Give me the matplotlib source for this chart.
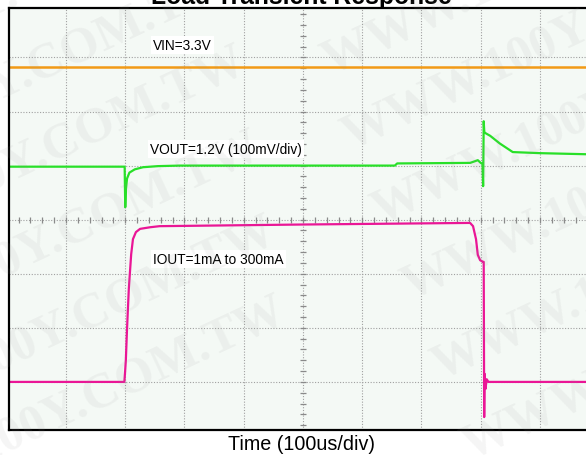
import numpy as np
from matplotlib import pyplot as plt
from matplotlib import font_manager

# screen positions are in divisions (8 vertical), time in us (100us/div)
vin_t = [0, 1000]
vin_y = [6.82, 6.82]

vout_t = [0, 199, 200, 201, 203, 207, 216, 230, 255, 292, 655, 659, 782, 790, 795,
          800, 803, 804, 805, 806, 808, 816, 832, 854, 900, 978, 1000]
vout_y = [4.98, 4.98, 4.23, 4.55, 4.76, 4.87, 4.93, 4.97, 4.99, 5.00, 5.00, 5.04, 5.05,
          5.08, 5.10, 5.05, 5.03, 4.62, 5.82, 5.62, 5.60, 5.55, 5.41, 5.25, 5.23, 5.21, 5.21]

iout_t = [0, 198.5, 199.5, 201, 203, 206, 210, 213, 218, 225, 242, 258, 495, 782,
          787, 792, 795, 799, 804, 805, 805.8, 806.5, 808, 810, 813, 1000]
iout_y = [1.00, 1.00, 1.15, 1.40, 1.98, 2.72, 3.36, 3.64, 3.77, 3.83, 3.86, 3.88, 3.91,
          3.94, 3.88, 3.64, 3.35, 3.25, 3.22, 3.22, 0.35, 1.15, 0.87, 1.05, 1.00, 1.00]

labels = ['VIN=3.3V', 'VOUT=1.2V (100mV/div)', 'IOUT=1mA to 300mA']
label_pos = [(153, 50), (150, 154), (153, 264)]   # left, baseline in pixels

watermark = 'WWW.100Y.COM.TW'

W, H = 586, 456
fig = plt.figure(figsize=(W / 100, H / 100), dpi=100)
fig.patch.set_facecolor('white')

# axes box: 9..599 px horizontally (right side runs off the picture), 9..431 vertically
ax = fig.add_axes([9 / W, (H - 431) / H, (599.25 - 9) / W, (431 - 9) / H])
ax.set_facecolor('#f4f9f5')
ax.set_xlim(3.8, 1000)
ax.set_ylim(0.111, 7.914)

# grid
for k in range(1, 10):
    ax.axvline(k * 100, color='#a0a0a0', lw=0.8, ls=(0, (1, 1.5)), zorder=1)
for k in range(1, 8):
    ax.axhline(k, color='#a0a0a0', lw=0.8, ls=(0, (1, 1.5)), zorder=1)

# small ticks on the centre cross
tx = np.arange(0, 1001, 20)
ax.plot(tx, np.full(len(tx), 4.0), ls='none', marker='|', ms=5, mew=0.9, color='#8a8a8a', zorder=1)
ty = np.arange(0, 8.01, 0.2)
ax.plot(np.full(len(ty), 500), ty, ls='none', marker='_', ms=4, mew=0.9, color='#8a8a8a', zorder=1)

ax.plot(vin_t, vin_y, color='#f29a16', lw=1.8, zorder=3)
ax.plot(vout_t, vout_y, color='#28e028', lw=1.6, zorder=3)
ax.plot(iout_t, iout_y, color='#ea1696', lw=1.6, zorder=3)

ax.set_xticks([])
ax.set_yticks([])
for s in ax.spines.values():
    s.set_linewidth(1.6)
    s.set_color('black')
    s.set_zorder(5)

names = {f.name for f in font_manager.fontManager.ttflist}
if 'Liberation Sans Narrow' in names:
    lab_font, lab_size = 'Liberation Sans Narrow', 11.5
else:
    lab_font, lab_size = 'Liberation Sans', 9.9

for txt, (px, py) in zip(labels, label_pos):
    fig.text(px / W, 1 - py / H, txt, family=lab_font, fontsize=lab_size,
             ha='left', va='baseline', zorder=6,
             bbox=dict(facecolor='white', edgecolor='none', pad=1.5))

fig.text(301.5 / W, 1 - 4 / H, 'Load Transient Response', family='Liberation Sans',
         fontsize=17.8, fontweight='bold', ha='center', va='baseline')
fig.text(301.5 / W, 1 - 450.5 / H, 'Time (100us/div)', family='Liberation Sans',
         fontsize=14.2, ha='center', va='baseline')

# faint watermark rows
wm_left = [(-230, 120), (-215, 200), (-200, 280), (-185, 365), (-170, 450), (-160, 530)]
wm_right = [(330, 75), (350, 150), (380, 225), (410, 300), (440, 380), (470, 460)]
for px, py in wm_left + wm_right:
    fig.text(px / W, 1 - py / H, watermark, family='Liberation Serif', fontweight='bold',
             fontsize=36, color='#909090', alpha=0.09, rotation=25,
             rotation_mode='anchor', ha='left', va='baseline', zorder=7)

fig.savefig('out.png', dpi=100)
